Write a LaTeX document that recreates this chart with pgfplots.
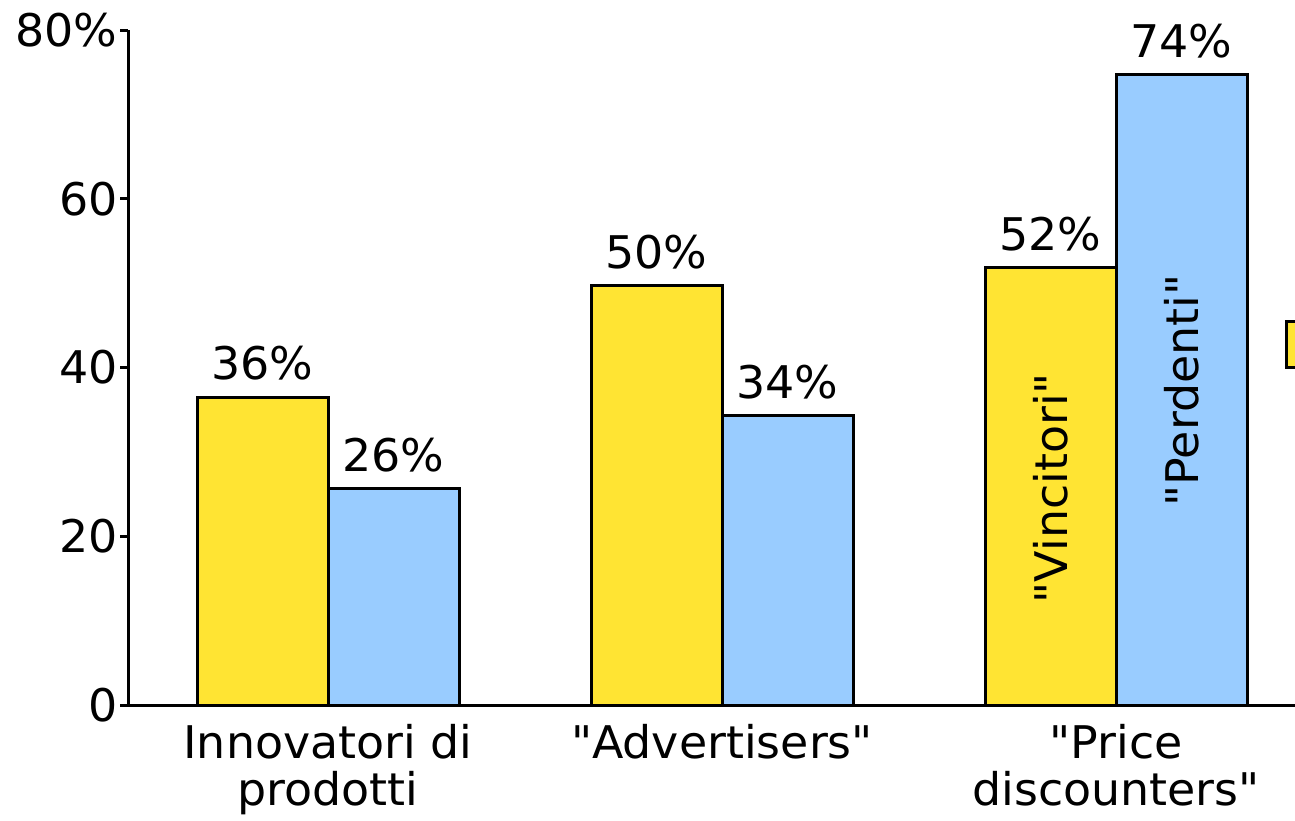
\documentclass[border=0pt]{standalone}
\usepackage{fontspec}
\setmainfont{DejaVu Sans}[Ligatures=TeXOff, FakeStretch=1.02]
\usepackage{pgfplots}
\pgfplotsset{compat=1.18}
\definecolor{barY}{RGB}{255,228,51}
\definecolor{barB}{RGB}{153,204,255}
\begin{document}
\fontsize{22.5}{23.5}\selectfont
\begin{tikzpicture}
\begin{axis}[
  scale only axis, width=631.9pt, height=337.5pt,
  xmin=-0.5076, xmax=2.7, ymin=0, ymax=80,
  axis x line*=bottom, axis y line*=left,
  axis line style={line width=1.5pt},
  ybar=0pt, bar width=65.5pt,
  xtick={0,1,2},
  xticklabels={{Innovatori di\\prodotti},{"Advertisers"},{"Price\\discounters"}},
  x tick label style={align=center, font=\fontsize{22.5}{23.5}\selectfont, yshift=2pt},
  x tick style={draw=none},
  ytick={0,20,40,60,80}, yticklabels={0,20,40,60,80\%},
  y tick label style={font=\fontsize{22.5}{23.5}\selectfont, inner sep=1pt},
  y tick style={line width=1.5pt, black},
  tick align=outside, major tick length=4pt, ytick pos=left,
  /pgf/number format/assume math mode=true,
  nodes near coords, point meta=explicit symbolic,
  every node near coord/.append style={font=\fontsize{22.5}{23.5}\selectfont, black},
  clip=false,
]
\addplot[fill=barY, draw=black, line width=1.5pt] coordinates {(0,36.5) [36\%] (1,49.7) [50\%] (2,51.8) [52\%]};
\addplot[fill=barB, draw=black, line width=1.5pt] coordinates {(0,25.7) [26\%] (1,34.3) [34\%] (2,74.7) [74\%]};
\node[rotate=90] at (axis cs:1.834,25.7) {"Vincitori"};
\node[rotate=90] at (axis cs:2.166,37.3) {"Perdenti"};
\draw[fill=barY, line width=1.5pt] (axis cs:2.4315,40.06) rectangle (axis cs:2.52,45.51);
\coordinate (bbl) at (axis cs:-0.8325,-13.63);
\coordinate (btr) at (axis cs:2.4543,83.56);
\end{axis}
\pgfresetboundingbox
\useasboundingbox (bbl) rectangle (btr);
\end{tikzpicture}
\end{document}
